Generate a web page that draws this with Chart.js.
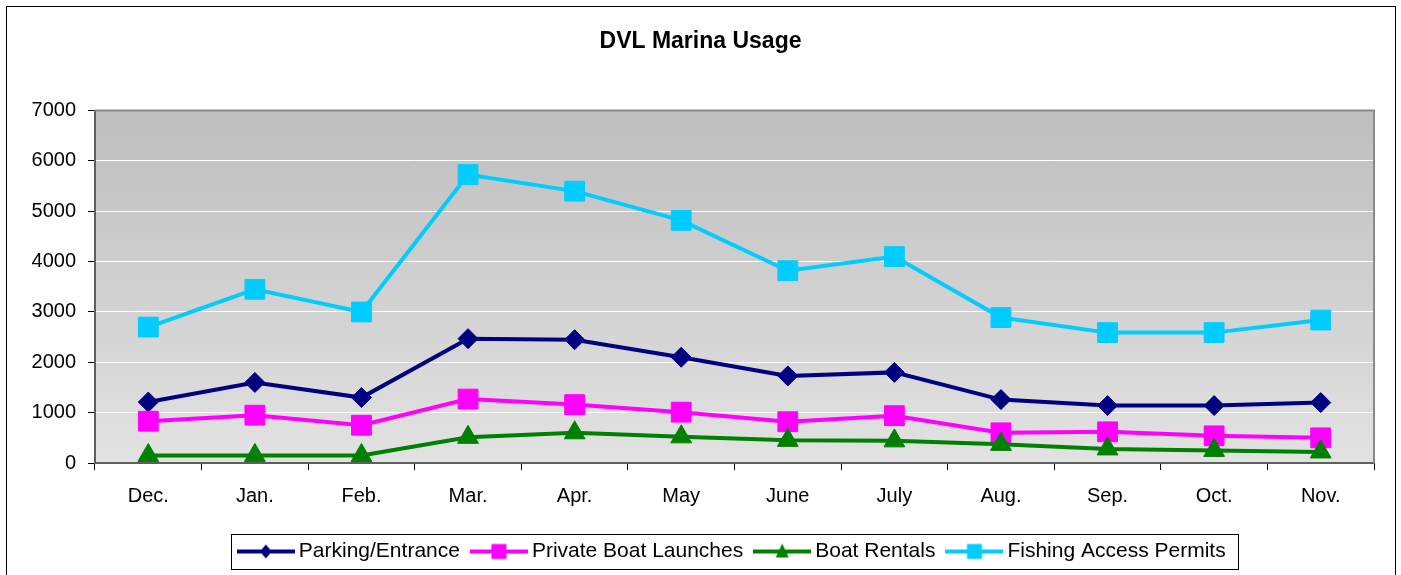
<!DOCTYPE html>
<html>
<head>
<meta charset="utf-8">
<title>DVL Marina Usage</title>
<script src="https://cdn.jsdelivr.net/npm/chart.js@4/dist/chart.umd.min.js"></script>
<style>
  html, body { margin: 0; padding: 0; background: #fff; }
</style>
</head>
<body>
<canvas id="graficoMarina" width="1401" height="575"></canvas>
<script>
// datos
const meses = ['Dec.', 'Jan.', 'Feb.', 'Mar.', 'Apr.', 'May', 'June', 'July', 'Aug.', 'Sep.', 'Oct.', 'Nov.'];
const parking = [1210, 1600, 1300, 2470, 2450, 2100, 1730, 1800, 1260, 1140, 1140, 1200];
const lanchas = [830, 950, 750, 1270, 1160, 1010, 820, 940, 600, 620, 540, 500];
const rentas = [150, 150, 150, 510, 600, 520, 450, 440, 370, 280, 250, 220];
const pesca = [2700, 3450, 3000, 5730, 5400, 4820, 3820, 4100, 2890, 2590, 2590, 2840];
const ticksY = [0, 1000, 2000, 3000, 4000, 5000, 6000, 7000];

const fuente = 'Arial, "Liberation Sans", sans-serif';

// icono de la leyenda: linea con el marcador en medio
function iconoLeyenda(color, estilo) {
  const c = document.createElement('canvas');
  c.width = 58;
  c.height = 20;
  const ctx = c.getContext('2d');
  ctx.strokeStyle = color;
  ctx.fillStyle = color;
  ctx.lineWidth = 4;
  ctx.beginPath();
  ctx.moveTo(0, 10);
  ctx.lineTo(58, 10);
  ctx.stroke();
  ctx.beginPath();
  if (estilo === 'rectRot') {
    ctx.moveTo(29, 3); ctx.lineTo(35, 10); ctx.lineTo(29, 17); ctx.lineTo(23, 10);
  } else if (estilo === 'triangle') {
    ctx.moveTo(29, 2); ctx.lineTo(35.5, 16); ctx.lineTo(22.5, 16);
  } else {
    ctx.rect(21.5, 2.5, 15, 15);
  }
  ctx.closePath();
  ctx.fill();
  return c;
}

const fondoPlugin = {
  id: 'fondo',
  beforeDraw(chart) {
    const ctx = chart.ctx;
    const a = chart.chartArea;
    const g = ctx.createLinearGradient(0, a.top, 0, a.bottom);
    g.addColorStop(0, '#bebebe');
    g.addColorStop(1, '#e2e2e2');
    ctx.save();
    ctx.fillStyle = g;
    ctx.fillRect(a.left, a.top, a.right - a.left, a.bottom - a.top);
    ctx.restore();
  },
  beforeDatasetsDraw(chart) {
    const ctx = chart.ctx;
    const a = chart.chartArea;
    ctx.save();
    ctx.strokeStyle = '#8a8a8a';
    ctx.lineWidth = 2;
    ctx.beginPath();
    ctx.moveTo(a.left, a.top);
    ctx.lineTo(a.right, a.top);
    ctx.lineTo(a.right, a.bottom);
    ctx.stroke();
    ctx.restore();
  },
  afterDraw(chart) {
    const ctx = chart.ctx;
    ctx.save();
    ctx.strokeStyle = '#000';
    ctx.lineWidth = 1;
    // marco exterior
    ctx.strokeRect(6.5, 6.5, 1389, 620);
    // marco de la leyenda
    const hb = chart.legend.legendHitBoxes;
    if (hb && hb.length) {
      const ult = hb[hb.length - 1];
      const izq = Math.round(hb[0].left - 12.5) + 0.5;
      const der = Math.round(ult.left + ult.width + 12) + 0.5;
      const arriba = Math.round(hb[0].top - 7) + 0.5;
      const abajo = Math.round(hb[0].top + hb[0].height + 7) + 0.5;
      ctx.strokeRect(izq, arriba, der - izq, abajo - arriba);
    }
    ctx.restore();
  }
};

const series = [
  { label: 'Parking/Entrance', data: parking, color: '#000080', estilo: 'rectRot', radio: 10 },
  { label: 'Private Boat Launches', data: lanchas, color: '#ff00ff', estilo: 'rect', radio: 14 },
  { label: 'Boat Rentals', data: rentas, color: '#008000', estilo: 'triangle', radio: 12 },
  { label: 'Fishing Access Permits', data: pesca, color: '#00ccff', estilo: 'rect', radio: 14 }
];

const iconos = series.map(s => iconoLeyenda(s.color, s.estilo));

const ctx = document.getElementById('graficoMarina');
new Chart(ctx, {
  type: 'line',
  data: {
    labels: meses,
    datasets: series.map((s, i) => ({
      label: s.label,
      data: s.data,
      borderColor: s.color,
      backgroundColor: s.color,
      borderWidth: 4,
      pointStyle: s.estilo,
      pointRadius: s.radio,
      pointHoverRadius: s.radio,
      pointBorderWidth: 1,
      pointBorderColor: s.color,
      pointBackgroundColor: s.color,
      tension: 0,
      fill: false,
      order: series.length - i
    }))
  },
  options: {
    responsive: false,
    animation: false,
    layout: { padding: { left: 0, right: 0, top: 0, bottom: 3 } },
    scales: {
      x: {
        offset: true,
        grid: { drawOnChartArea: false, offset: true, tickLength: 7, tickColor: '#000', tickWidth: 1 },
        border: { color: '#5f5f5f', width: 2 },
        ticks: { color: '#000', padding: 14, font: { family: fuente, size: 20 }, maxRotation: 0, autoSkip: false },
        afterFit: scale => { scale.height = 61.5; }
      },
      y: {
        min: 0,
        max: 7000,
        grid: { color: '#ffffff', lineWidth: 1, tickLength: 7, tickColor: '#000' },
        border: { color: '#5f5f5f', width: 2 },
        ticks: { color: '#000', padding: 12, font: { family: fuente, size: 20 }, callback: v => String(v) },
        afterBuildTicks: scale => { scale.ticks = ticksY.map(v => ({ value: v })); },
        afterFit: scale => { scale.width = 95; }
      },
      // margen derecho vacio, para que el titulo quede centrado en toda la figura
      margen: {
        type: 'linear',
        position: 'right',
        display: true,
        grid: { display: false },
        border: { display: false },
        ticks: { display: false },
        afterFit: scale => { scale.width = 27; }
      }
    },
    plugins: {
      title: {
        display: true,
        text: 'DVL Marina Usage',
        color: '#000',
        font: { family: fuente, size: 23, weight: 'bold' },
        padding: { top: 28, bottom: 55 }
      },
      legend: {
        position: 'bottom',
        fullSize: false,
        labels: {
          usePointStyle: true,
          pointStyleWidth: 45,
          padding: 16.5,
          color: '#000',
          font: { family: fuente, size: 21 },
          generateLabels: chart => chart.data.datasets.map((ds, i) => ({
            text: ds.label,
            pointStyle: iconos[i],
            datasetIndex: i,
            hidden: false,
            fontColor: '#000',
            fillStyle: ds.borderColor,
            strokeStyle: ds.borderColor,
            lineWidth: 0
          }))
        }
      },
      tooltip: { enabled: false }
    }
  },
  plugins: [fondoPlugin]
});
</script>
</body>
</html>
